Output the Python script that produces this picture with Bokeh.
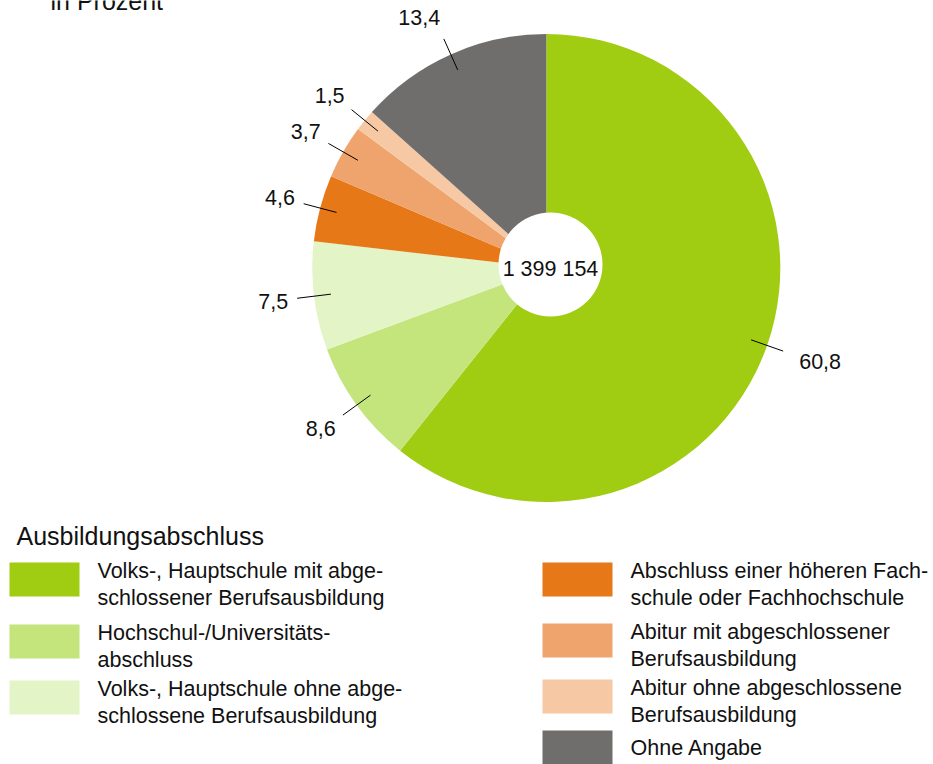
import math
from bokeh.plotting import figure
from bokeh.models import Range1d, ColumnDataSource
from bokeh.embed import file_html
from bokeh.resources import INLINE
from bokeh.core.properties import value

# ---------------- data ----------------
categories = [
    "Volks-, Hauptschule mit abge-\nschlossener Berufsausbildung",
    "Hochschul-/Universitäts-\nabschluss",
    "Volks-, Hauptschule ohne abge-\nschlossene Berufsausbildung",
    "Abschluss einer höheren Fach-\nschule oder Fachhochschule",
    "Abitur mit abgeschlossener\nBerufsausbildung",
    "Abitur ohne abgeschlossene\nBerufsausbildung",
    "Ohne Angabe",
]
shares = [60.8, 8.6, 7.5, 4.6, 3.7, 1.5, 13.4]
share_labels = ["60,8", "8,6", "7,5", "4,6", "3,7", "1,5", "13,4"]
colors = ["#a0cc12", "#c4e47c", "#e3f4c6", "#e67817", "#efa46d", "#f6c9a4", "#706e6c"]
total_label = "1 399 154"
subtitle = "in Prozent"
legend_title = "Ausbildungsabschluss"

# ---------------- layout ----------------
W, H = 933, 764
FONT = value("Liberation Sans")
TXT = "#111111"


def X(px):
    return px


def Y(py):
    return H - py


p = figure(width=W, height=H, x_range=Range1d(0, W), y_range=Range1d(0, H),
           output_backend="svg", toolbar_location=None,
           x_axis_type=None, y_axis_type=None, min_border=0)
p.outline_line_color = None
p.background_fill_color = "white"
p.border_fill_color = "white"

cx, cy, R = X(545.8), Y(267.5), 234

total = sum(shares)
starts, ends, mids = [], [], []
cum = 0.0
for s in shares:
    a0 = math.pi / 2 - 2 * math.pi * cum / total
    cum += s
    a1 = math.pi / 2 - 2 * math.pi * cum / total
    starts.append(a0)
    ends.append(a1)
    mids.append((a0 + a1) / 2)

src = ColumnDataSource(dict(start=starts, end=ends, color=colors))
p.wedge(x=cx, y=cy, radius=R, start_angle="start", end_angle="end",
        direction="clock", fill_color="color", line_color=None, source=src)

# centre hole
p.circle(x=[X(550)], y=[Y(264)], radius=52, fill_color="white", line_color=None)
p.text(x=[X(550)], y=[Y(268.5)], text=[total_label], text_align="center",
       text_baseline="middle", text_font=FONT, text_font_size="21.5px",
       text_color=TXT)

# leader lines and value labels
r_in, r_out = 217, 251
r_lab = {"right": 260, "left": 268}
x0 = [cx + r_in * math.cos(m) for m in mids]
y0 = [cy + r_in * math.sin(m) for m in mids]
x1 = [cx + r_out * math.cos(m) for m in mids]
y1 = [cy + r_out * math.sin(m) for m in mids]
p.segment(x0=x0, y0=y0, x1=x1, y1=y1, line_color="black", line_width=1)

for side in ("left", "right"):
    xs, ys, ts = [], [], []
    for m, lab in zip(mids, share_labels):
        c = math.cos(m)
        if (c >= 0) == (side == "left"):
            rl = r_lab[side]
            xs.append(cx + rl * c)
            ys.append(cy + rl * math.sin(m) + 14 * math.sin(m))
            ts.append(lab)
    p.text(x=xs, y=ys, text=ts, text_align=side, text_baseline="middle",
           text_font=FONT, text_font_size="21.5px", text_color=TXT)

# subtitle (cut at top as in reference)
p.text(x=[X(50)], y=[Y(0.5)], text=[subtitle], text_align="left",
       text_baseline="middle", text_font=FONT, text_font_size="25px",
       text_color=TXT)

# legend
p.text(x=[X(16)], y=[Y(535)], text=[legend_title], text_align="left",
       text_baseline="middle", text_font=FONT, text_font_size="25px",
       text_color=TXT)

col_x = [9, 9, 9, 542, 542, 542, 542]
row_top = [562, 624, 680, 562, 623, 679, 730]
sw_w, sw_h, txt_dx = 70, 34, 88

p.quad(left=[X(v) for v in col_x], right=[X(v + sw_w) for v in col_x],
       top=[Y(v) for v in row_top], bottom=[Y(v + sw_h) for v in row_top],
       fill_color=colors, line_color=None)

lx, ly, lt = [], [], []
for cat, xx, tp in zip(categories, col_x, row_top):
    lines = cat.split("\n")
    first = tp + 8 if len(lines) > 1 else tp + 17
    for i, ln in enumerate(lines):
        lx.append(X(xx + txt_dx))
        ly.append(Y(first + 27 * i))
        lt.append(ln)
p.text(x=lx, y=ly, text=lt, text_align="left", text_baseline="middle",
       text_font=FONT, text_font_size="21.5px", text_color=TXT)

open("out.html", "w").write(file_html(p, INLINE))
